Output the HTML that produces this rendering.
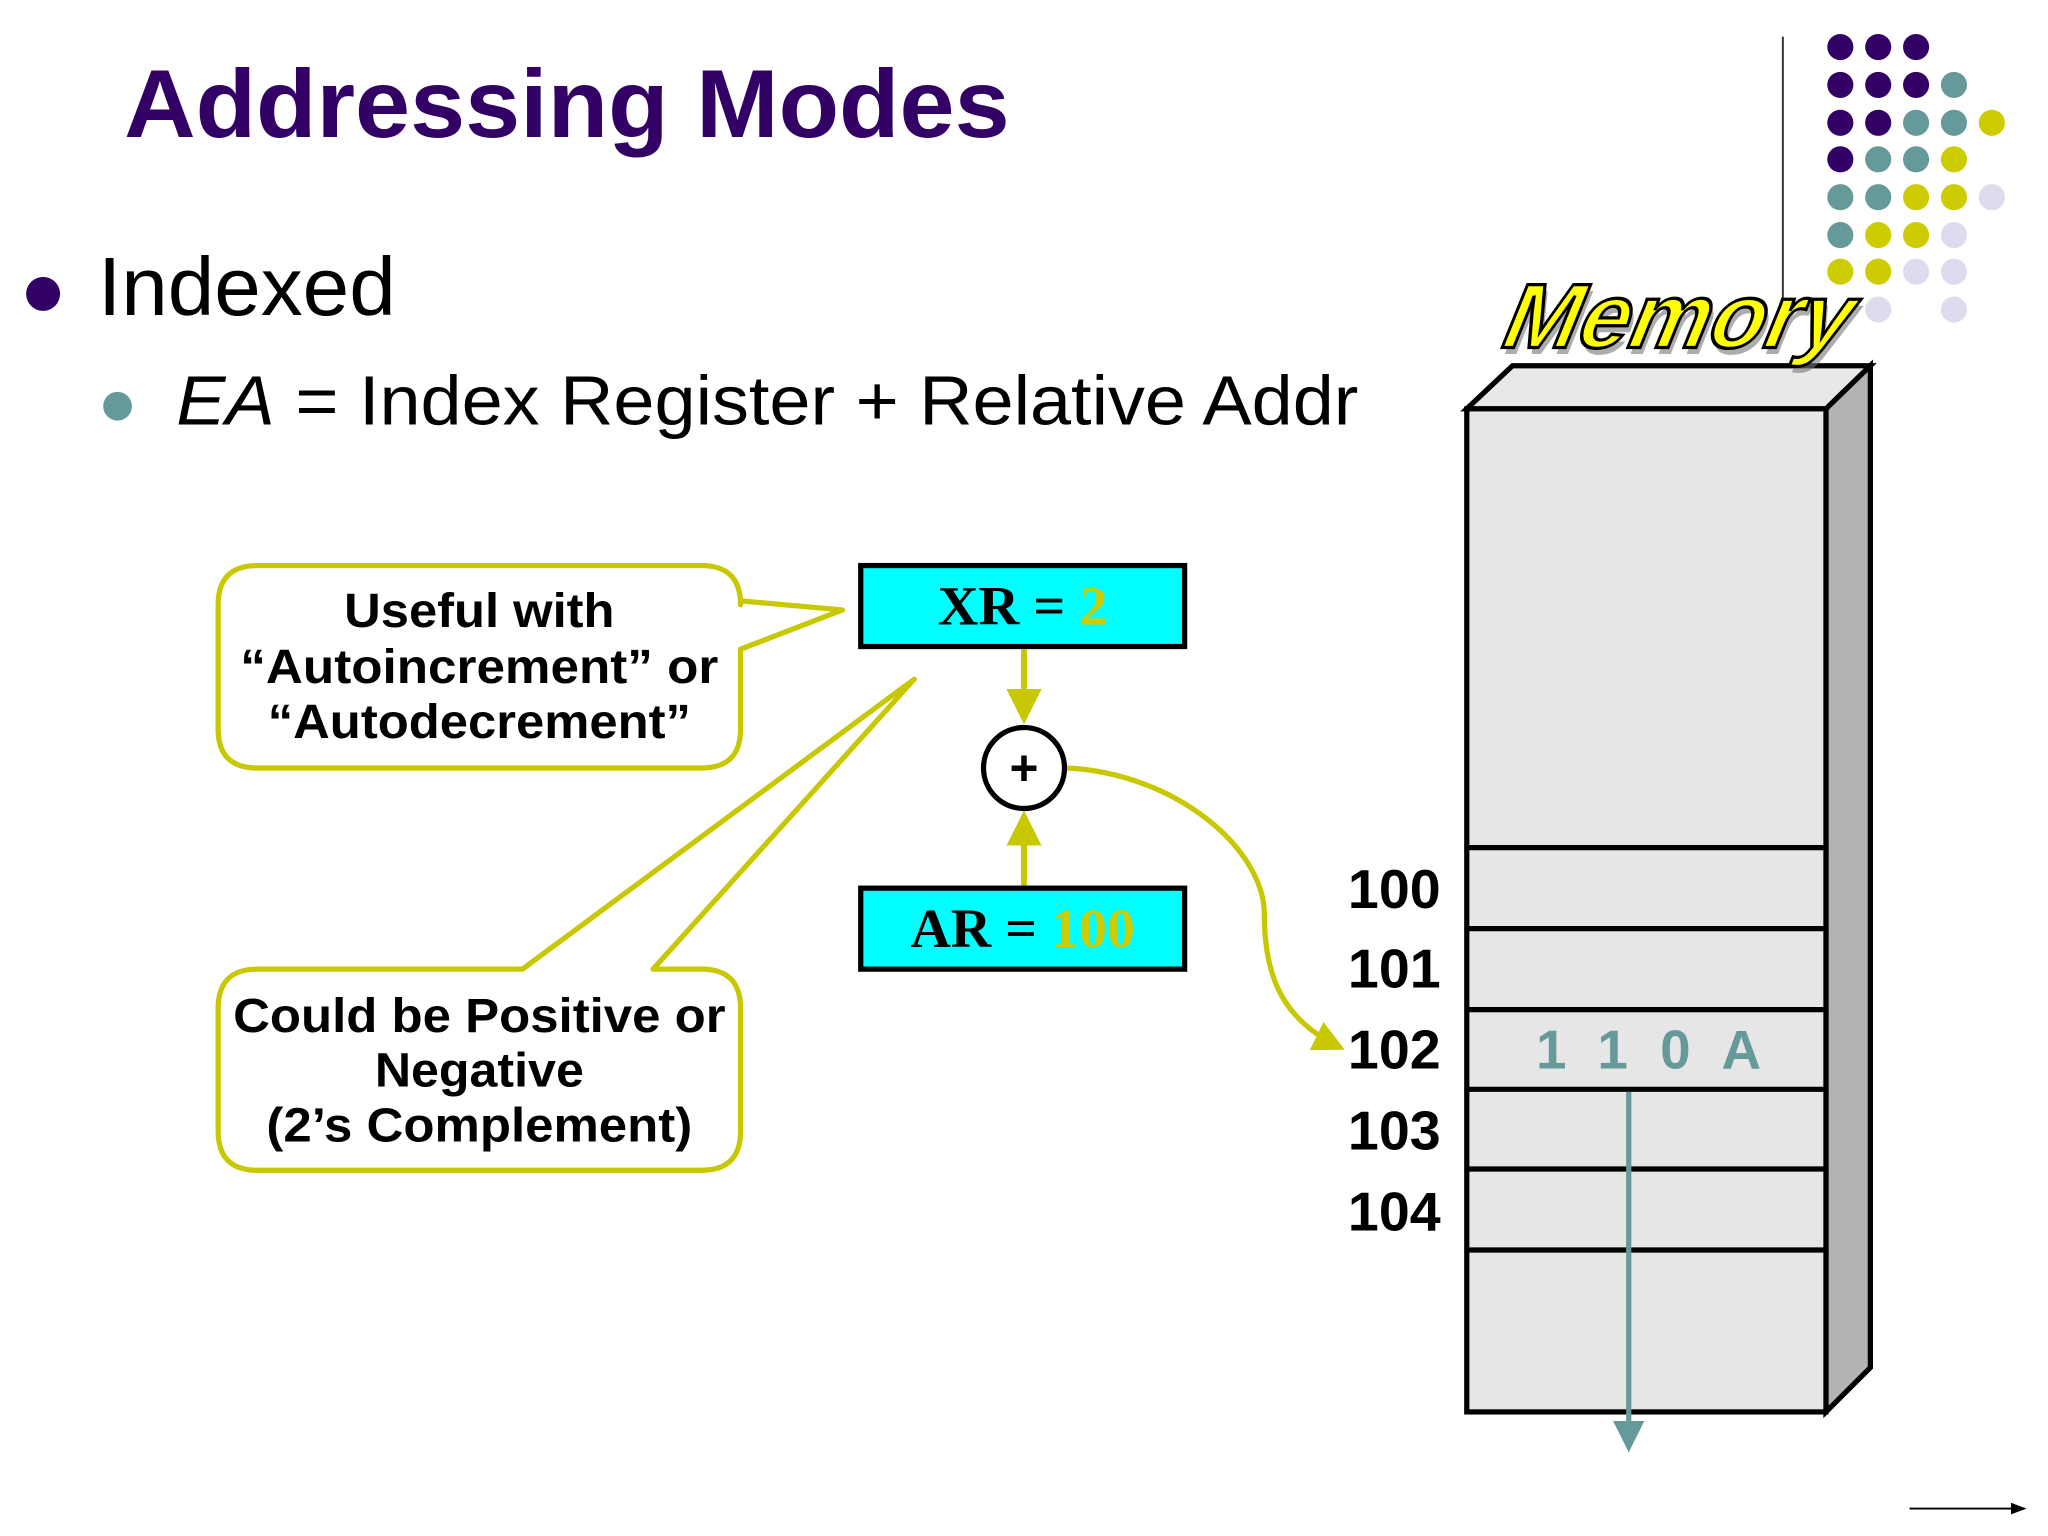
<!DOCTYPE html>
<html><head><meta charset="utf-8"><style>
html,body{margin:0;padding:0;background:#fff;width:2048px;height:1536px;overflow:hidden}
svg{display:block}
</style></head><body>
<svg width="2048" height="1536" viewBox="0 0 1568 1176" xmlns="http://www.w3.org/2000/svg">
<defs>
<marker id="ya" markerWidth="6" markerHeight="6" refX="5" refY="3" orient="auto" markerUnits="strokeWidth"><path d="M0,0 L6,3 L0,6 z" fill="#c8c800"/></marker>
<marker id="ta" markerWidth="6" markerHeight="6" refX="5" refY="3" orient="auto" markerUnits="strokeWidth"><path d="M0,0 L6,3 L0,6 z" fill="#669999"/></marker>
<marker id="ka" markerWidth="8" markerHeight="8" refX="7" refY="4" orient="auto" markerUnits="strokeWidth"><path d="M0,1 L8,4 L0,7 z" fill="#000"/></marker>
</defs>
<text x="95" y="105" textLength="678" lengthAdjust="spacingAndGlyphs" font-family="Liberation Sans, sans-serif" font-weight="bold" font-size="74" fill="#330066">Addressing Modes</text>
<line x1="1365" y1="28" x2="1365" y2="235" stroke="#333" stroke-width="1.5"/>
<g>
<circle cx="1409" cy="36" r="10" fill="#330066"/><circle cx="1438" cy="36" r="10" fill="#330066"/><circle cx="1467" cy="36" r="10" fill="#330066"/>
<circle cx="1409" cy="65" r="10" fill="#330066"/><circle cx="1438" cy="65" r="10" fill="#330066"/><circle cx="1467" cy="65" r="10" fill="#330066"/><circle cx="1496" cy="65" r="10" fill="#669999"/>
<circle cx="1409" cy="94" r="10" fill="#330066"/><circle cx="1438" cy="94" r="10" fill="#330066"/><circle cx="1467" cy="94" r="10" fill="#669999"/><circle cx="1496" cy="94" r="10" fill="#669999"/><circle cx="1525" cy="94" r="10" fill="#cccc00"/>
<circle cx="1409" cy="122" r="10" fill="#330066"/><circle cx="1438" cy="122" r="10" fill="#669999"/><circle cx="1467" cy="122" r="10" fill="#669999"/><circle cx="1496" cy="122" r="10" fill="#cccc00"/>
<circle cx="1409" cy="151" r="10" fill="#669999"/><circle cx="1438" cy="151" r="10" fill="#669999"/><circle cx="1467" cy="151" r="10" fill="#cccc00"/><circle cx="1496" cy="151" r="10" fill="#cccc00"/><circle cx="1525" cy="151" r="10" fill="#dcdcee"/>
<circle cx="1409" cy="180" r="10" fill="#669999"/><circle cx="1438" cy="180" r="10" fill="#cccc00"/><circle cx="1467" cy="180" r="10" fill="#cccc00"/><circle cx="1496" cy="180" r="10" fill="#dcdcee"/>
<circle cx="1409" cy="208" r="10" fill="#cccc00"/><circle cx="1438" cy="208" r="10" fill="#cccc00"/><circle cx="1467" cy="208" r="10" fill="#dcdcee"/><circle cx="1496" cy="208" r="10" fill="#dcdcee"/>
<circle cx="1438" cy="237" r="10" fill="#dcdcee"/><circle cx="1496" cy="237" r="10" fill="#dcdcee"/>
</g>
<circle cx="33" cy="225" r="13" fill="#330066"/>
<text x="75" y="241" textLength="228" lengthAdjust="spacingAndGlyphs" font-family="Liberation Sans, sans-serif" font-size="63" fill="#000">Indexed</text>
<circle cx="90" cy="311" r="11" fill="#669999"/>
<text x="135" y="325" textLength="905" lengthAdjust="spacingAndGlyphs" font-family="Liberation Sans, sans-serif" font-size="53" fill="#000"><tspan font-style="italic">EA</tspan> = Index Register + Relative Addr</text>
<!-- memory box -->
<polygon points="1123,313 1158,280 1432,280 1398,313" fill="#e8e8e8" stroke="#000" stroke-width="4"/>
<polygon points="1398,313 1432,280 1432,1047 1398,1081" fill="#b3b3b3" stroke="#000" stroke-width="4"/>
<rect x="1123" y="313" width="275" height="768" fill="#e6e6e6" stroke="#000" stroke-width="4"/>
<g stroke="#000" stroke-width="4">
<line x1="1123" y1="649" x2="1400" y2="649"/><line x1="1123" y1="711" x2="1400" y2="711"/><line x1="1123" y1="773" x2="1400" y2="773"/><line x1="1123" y1="834" x2="1400" y2="834"/><line x1="1123" y1="895" x2="1400" y2="895"/><line x1="1123" y1="957" x2="1400" y2="957"/>
</g>
<g transform="translate(1278,266) skewX(-22)">
<text x="4" y="5" text-anchor="middle" textLength="265" lengthAdjust="spacingAndGlyphs" font-family="Liberation Sans, sans-serif" font-weight="bold" font-size="70" fill="#777" opacity="0.6">Memory</text>
<text x="0" y="0" text-anchor="middle" textLength="265" lengthAdjust="spacingAndGlyphs" font-family="Liberation Sans, sans-serif" font-weight="bold" font-size="70" fill="#ffff00" stroke="#000" stroke-width="2.5">Memory</text>
</g>
<g font-family="Liberation Sans, sans-serif" font-weight="bold" font-size="42" fill="#000">
<text x="1032" y="695" textLength="71" lengthAdjust="spacingAndGlyphs">100</text><text x="1032" y="756" textLength="71" lengthAdjust="spacingAndGlyphs">101</text><text x="1032" y="818" textLength="71" lengthAdjust="spacingAndGlyphs">102</text><text x="1032" y="880" textLength="71" lengthAdjust="spacingAndGlyphs">103</text><text x="1032" y="942" textLength="71" lengthAdjust="spacingAndGlyphs">104</text>
</g>
<g font-family="Liberation Sans, sans-serif" font-weight="bold" font-size="42" fill="#669999">
<text x="1176" y="818">1</text><text x="1223" y="818">1</text><text x="1271" y="818">0</text><text x="1318" y="818">A</text>
</g>
<line x1="1247" y1="836" x2="1247" y2="1108" stroke="#669999" stroke-width="4" marker-end="url(#ta)"/>
<line x1="1462" y1="1155" x2="1550" y2="1155" stroke="#000" stroke-width="1.5" marker-end="url(#ka)"/>
<!-- registers -->
<rect x="659" y="433" width="248" height="62" fill="#00ffff" stroke="#000" stroke-width="4"/>
<text x="783" y="478" text-anchor="middle" textLength="130" lengthAdjust="spacingAndGlyphs" font-family="Liberation Serif, serif" font-weight="bold" font-size="42" fill="#000">XR = <tspan fill="#cccc00">2</tspan></text>
<rect x="659" y="680" width="248" height="62" fill="#00ffff" stroke="#000" stroke-width="4"/>
<text x="783" y="725" text-anchor="middle" textLength="172" lengthAdjust="spacingAndGlyphs" font-family="Liberation Serif, serif" font-weight="bold" font-size="42" fill="#000">AR = <tspan fill="#cccc00">100</tspan></text>
<line x1="784" y1="497" x2="784" y2="550" stroke="#c8c800" stroke-width="4.5" marker-end="url(#ya)"/>
<line x1="784" y1="678" x2="784" y2="625" stroke="#c8c800" stroke-width="4.5" marker-end="url(#ya)"/>
<circle cx="784" cy="588" r="31" fill="#fff" stroke="#000" stroke-width="4"/>
<text x="784" y="601" text-anchor="middle" font-family="Liberation Sans, sans-serif" font-weight="bold" font-size="38">+</text>
<path d="M817,588 C900,592 968,650 968,700 C968,752 985,782 1026,802" fill="none" stroke="#c8c800" stroke-width="4" marker-end="url(#ya)"/>
<!-- callouts -->
<path d="M197,433 H537 Q567,433 567,463 V460 L645,467 L567,497 V558 Q567,588 537,588 H197 Q167,588 167,558 V463 Q167,433 197,433 Z" fill="#fff" stroke="#c8c800" stroke-width="4" stroke-linejoin="round"/>
<g font-family="Liberation Sans, sans-serif" font-weight="bold" font-size="37" fill="#000" text-anchor="middle">
<text x="367" y="480" textLength="207" lengthAdjust="spacingAndGlyphs">Useful with</text><text x="367" y="523" textLength="366" lengthAdjust="spacingAndGlyphs">“Autoincrement” or</text><text x="367" y="565" textLength="324" lengthAdjust="spacingAndGlyphs">“Autodecrement”</text>
</g>
<path d="M197,742 H400 L700,520 L500,742 H537 Q567,742 567,772 V866 Q567,896 537,896 H197 Q167,896 167,866 V772 Q167,742 197,742 Z" fill="#fff" stroke="#c8c800" stroke-width="4" stroke-linejoin="round"/>
<g font-family="Liberation Sans, sans-serif" font-weight="bold" font-size="37" fill="#000" text-anchor="middle">
<text x="367" y="790" textLength="377" lengthAdjust="spacingAndGlyphs">Could be Positive or</text><text x="367" y="832" textLength="160" lengthAdjust="spacingAndGlyphs">Negative</text><text x="367" y="874" textLength="326" lengthAdjust="spacingAndGlyphs">(2’s Complement)</text>
</g>
</svg>
</body></html>
